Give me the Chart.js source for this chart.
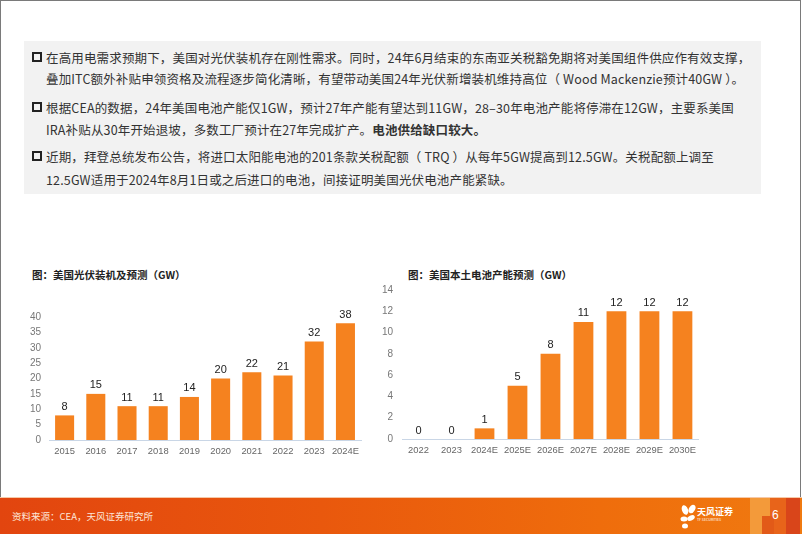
<!DOCTYPE html>
<html>
<head>
<meta charset="utf-8">
<script src="https://cdn.jsdelivr.net/npm/chart.js@4.4.1/dist/chart.umd.min.js"></script>
<style>
  html, body { margin: 0; padding: 0; }
  body { width: 802px; height: 534px; position: relative; overflow: hidden; background: #fff;
         font-family: "Noto Sans CJK SC", "Noto Sans", sans-serif; }
  .frame { position: absolute; left: 0; top: 0; width: 799px; height: 533px; border: 1px solid #7a7a7a; border-bottom: none; box-sizing: content-box; }
  .box { position: absolute; left: 24px; top: 41px; width: 737px; height: 153px; background: #f2f2f2; }
  .line { position: absolute; left: 46px; font-size: 12.5px; color: #333; white-space: nowrap; line-height: 16px; letter-spacing: 0.15px; }
  .chk { position: absolute; left: 32px; width: 6px; height: 6px; border: 2px solid #222; }
  .title { position: absolute; font-size: 10.5px; font-weight: bold; color: #222; white-space: nowrap; line-height: 14px; }
  canvas { position: absolute; }
  .footer { position: absolute; left: 0; top: 497px; width: 802px; height: 37px;
            background: linear-gradient(90deg, #e2450f 0%, #e9580d 40%, #ef6d0c 75%, #f07a10 100%);
            border-top: 1px solid #f6c9a8; }
  .ftext { position: absolute; left: 12px; top: 510px; font-size: 9.5px; color: #fde6d8; white-space: nowrap; line-height: 12px; }
  .sq { position: absolute; }
  .logo { position: absolute; left: 697px; top: 506px; color: #fff; font-size: 9px; font-weight: bold; line-height: 11px; white-space: nowrap; }
  .logo small { display: block; font-size: 3.5px; line-height: 5px; font-weight: normal; }
  .page { position: absolute; left: 772px; top: 508px; color: #fff; font-size: 12px; line-height: 14px; font-family: "Liberation Sans", Arial, sans-serif; }
</style>
</head>
<body>
<div class="frame"></div>
<div class="box"></div>

<div class="chk" style="top:52px"></div>
<div class="line" style="top:50px">在高用电需求预期下，美国对光伏装机存在刚性需求。同时，24年6月结束的东南亚关税豁免期将对美国组件供应作有效支撑，</div>
<div class="line" style="top:71px">叠加ITC额外补贴申领资格及流程逐步简化清晰，有望带动美国24年光伏新增装机维持高位（ Wood Mackenzie预计40GW ）。</div>
<div class="chk" style="top:102px"></div>
<div class="line" style="top:100px">根据CEA的数据，24年美国电池产能仅1GW，预计27年产能有望达到11GW，28–30年电池产能将停滞在12GW，主要系美国</div>
<div class="line" style="top:122px">IRA补贴从30年开始退坡，多数工厂预计在27年完成扩产。<b>电池供给缺口较大。</b></div>
<div class="chk" style="top:151px"></div>
<div class="line" style="top:149px">近期，拜登总统发布公告，将进口太阳能电池的201条款关税配额（ TRQ ）从每年5GW提高到12.5GW。关税配额上调至</div>
<div class="line" style="top:172px">12.5GW适用于2024年8月1日或之后进口的电池，间接证明美国光伏电池产能紧缺。</div>

<div class="title" style="left:32px; top:268px">图：美国光伏装机及预测（GW）</div>
<div class="title" style="left:408px; top:268px">图：美国本土电池产能预测（GW）</div>

<canvas id="pvChart" width="345" height="165" style="left:20px; top:299px"></canvas>
<canvas id="cellChart" width="330" height="188" style="left:372px; top:275px"></canvas>

<div class="footer"></div>
<div class="sq" style="left:750px; top:498px; width:20px; height:36px; background:#f39a3a"></div>
<div class="sq" style="left:770px; top:498px; width:16px; height:36px; background:#e8641a"></div>
<div class="sq" style="left:786px; top:498px; width:14px; height:36px; background:#d9451a"></div>
<div class="sq" style="left:762px; top:516px; width:12px; height:18px; background:#e25a18"></div>
<div class="ftext">资料来源：CEA，天风证券研究所</div>
<svg style="position:absolute; left:680px; top:504px" width="16" height="26" viewBox="0 0 16 26">
  <ellipse cx="5" cy="6" rx="3" ry="5" fill="#fff" transform="rotate(-20 5 6)"/>
  <ellipse cx="12" cy="5" rx="3" ry="4.5" fill="#fff" transform="rotate(30 12 5)"/>
  <ellipse cx="4" cy="15" rx="3.5" ry="2.5" fill="#fff"/>
  <ellipse cx="11" cy="14" rx="4" ry="2.5" fill="#fff" transform="rotate(-25 11 14)"/>
  <ellipse cx="5" cy="22" rx="3" ry="2.5" fill="#fff"/>
</svg>
<div class="logo">天风证券<small>TF SECURITIES</small></div>
<div class="page">6</div>

<script>
const pvYears = ['2015', '2016', '2017', '2018', '2019', '2020', '2021', '2022', '2023', '2024E'];
const pvInstalled = [8, 15, 11, 11, 14, 20, 22, 21, 32, 38];
const pvTickMax = 40;
const pvTickStep = 5;

const cellYears = ['2022', '2023', '2024E', '2025E', '2026E', '2027E', '2028E', '2029E', '2030E'];
const cellCapacity = [0, 0, 1, 5, 8, 11, 12, 12, 12];
const cellTickMax = 14;
const cellTickStep = 2;

const barColor = '#f5821f';
const tickFont = { family: '"Liberation Sans", Arial, sans-serif', size: 10 };
const xTickFont = { family: '"Liberation Sans", Arial, sans-serif', size: 9.4 };

// draws the number over each bar
const valueLabels = {
  id: 'valueLabels',
  afterDatasetsDraw (chart) {
    const ctx = chart.ctx;
    ctx.save();
    ctx.font = '11px "Liberation Sans", Arial, sans-serif';
    ctx.fillStyle = '#222';
    ctx.textAlign = 'center';
    ctx.textBaseline = 'bottom';
    chart.data.datasets.forEach((ds, di) => {
      chart.getDatasetMeta(di).data.forEach((bar, i) => {
        ctx.fillText(ds.data[i], bar.x, bar.y - 3);
      });
    });
    ctx.restore();
  }
};

function makeChart (id, labels, values, max, step, opts) {
  return new Chart(document.getElementById(id).getContext('2d'), {
    type: 'bar',
    data: {
      labels: labels,
      datasets: [{ data: values, backgroundColor: barColor, barPercentage: opts.barPct, categoryPercentage: 1 }]
    },
    options: {
      responsive: false,
      animation: false,
      devicePixelRatio: 1,
      layout: { padding: { top: opts.padTop, left: 0, right: 0, bottom: 0 } },
      plugins: { legend: { display: false }, tooltip: { enabled: false } },
      scales: {
        x: {
          grid: { display: false, drawTicks: false },
          border: { display: true, color: '#c9d6e6', width: 1 },
          ticks: { color: '#666', font: xTickFont, padding: 6, maxRotation: 0, minRotation: 0, autoSkip: false },
          afterFit: (s) => { s.height = 24; }
        },
        y: {
          min: 0,
          max: max,
          grid: { display: false, drawTicks: false },
          border: { display: false },
          ticks: { stepSize: step, color: '#777', font: tickFont, padding: opts.yPad },
          afterFit: (s) => { s.width = opts.yWidth; }
        }
      }
    },
    plugins: [valueLabels]
  });
}

makeChart('pvChart', pvYears, pvInstalled, pvTickMax, pvTickStep, { barPct: 0.61, padTop: 18, yWidth: 29, yPad: 8 });
makeChart('cellChart', cellYears, cellCapacity, cellTickMax, cellTickStep, { barPct: 0.6, padTop: 15, yWidth: 30, yPad: 9 });
</script>
</body>
</html>
